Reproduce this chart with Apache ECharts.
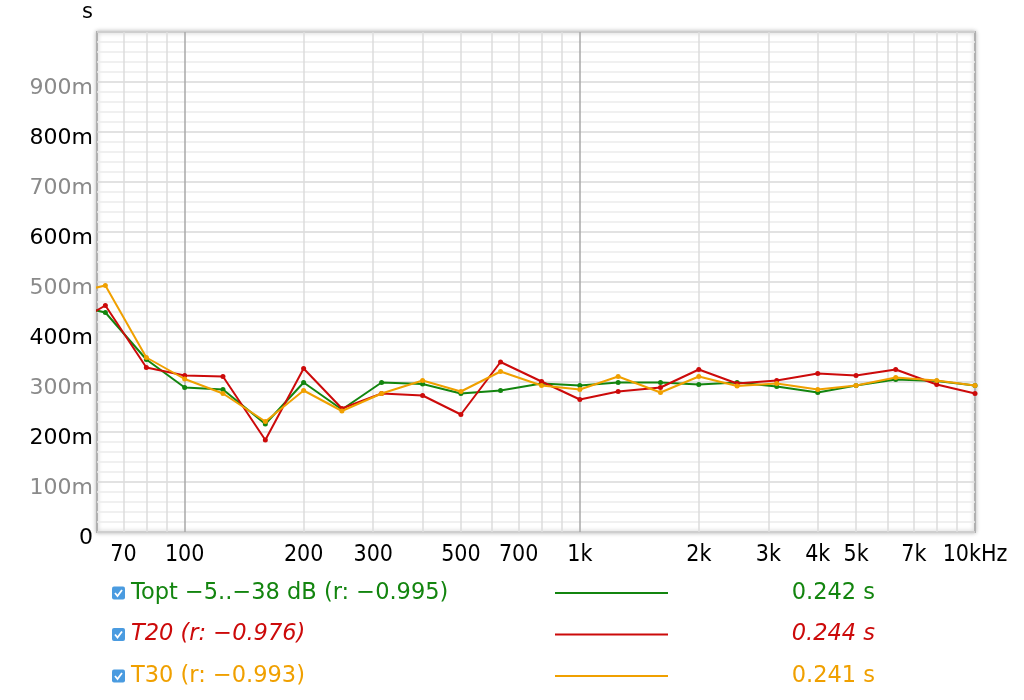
<!DOCTYPE html>
<html><head><meta charset="utf-8">
<script src="https://cdn.jsdelivr.net/npm/echarts@6/dist/echarts.min.js"></script>
<style>html,body{margin:0;padding:0;background:#fff}#c{width:1024px;height:700px}</style>
</head><body><div id="c"></div>
<script>
const freqs = [50, 63, 80, 100, 125, 160, 200, 250, 315, 400, 500, 630, 800, 1000, 1250, 1600, 2000, 2500, 3150, 4000, 5000, 6300, 8000, 10000];
const toptValues = [0.457, 0.439, 0.345, 0.289, 0.285, 0.216, 0.299, 0.245, 0.299, 0.296, 0.277, 0.283, 0.297, 0.293, 0.299, 0.299, 0.295, 0.299, 0.291, 0.279, 0.293, 0.305, 0.302, 0.293];
const t20Values  = [0.407, 0.453, 0.329, 0.313, 0.311, 0.184, 0.327, 0.247, 0.277, 0.273, 0.235, 0.340, 0.301, 0.265, 0.281, 0.289, 0.325, 0.297, 0.303, 0.317, 0.313, 0.325, 0.295, 0.277];
const t30Values  = [0.475, 0.493, 0.349, 0.306, 0.277, 0.221, 0.283, 0.242, 0.277, 0.303, 0.281, 0.321, 0.293, 0.285, 0.311, 0.279, 0.311, 0.292, 0.297, 0.285, 0.293, 0.309, 0.303, 0.293];
const xTickLabels = [70, 100, 200, 300, 500, 700, 1000, 2000, 3000, 4000, 5000, 7000, 10000];
const minorGridFreqs = [70, 80, 90, 200, 300, 400, 500, 600, 700, 800, 900, 2000, 3000, 4000, 5000, 6000, 7000, 8000, 9000];
const majorGridFreqs = [100, 1000];
const seriesNames = ['Topt \u22125..\u221238 dB (r: \u22120.995)', 'T20 (r: \u22120.976)', 'T30 (r: \u22120.993)'];
const seriesTotals = ['0.242 s', '0.244 s', '0.241 s'];
const seriesColors = ['#13850f', '#cc0a0a', '#f0a000'];
const seriesItalic = [false, true, false];
const seriesValues = [toptValues, t20Values, t30Values];

function pairs(v) { return freqs.map((f, i) => [f, v[i]]); }

const chart = echarts.init(document.getElementById('c'), null, {renderer: 'canvas'});

const gridMarkLines = [];
minorGridFreqs.forEach(f => gridMarkLines.push({xAxis: f, lineStyle: {color: '#dcdcdc', width: 1.5, type: 'solid'}}));
majorGridFreqs.forEach(f => gridMarkLines.push({xAxis: f, lineStyle: {color: '#a8a8a8', width: 1.5, type: 'solid'}}));

const series = [{
  type: 'line', data: [], z: 1, silent: true,
  markLine: {silent: true, symbol: 'none', label: {show: false}, animation: false, z: 1, data: gridMarkLines}
}];
seriesValues.forEach((vals, i) => {
  series.push({
    type: 'line', name: seriesNames[i], data: pairs(vals), z: 3 + i,
    clip: true, symbol: 'circle', symbolSize: 5, showSymbol: true,
    lineStyle: {color: seriesColors[i], width: 2},
    itemStyle: {color: seriesColors[i], borderWidth: 0},
    emphasis: {disabled: true},
    animation: false
  });
});

const legendFont = '22.5px "DejaVu Sans"';
const graphics = [];
seriesNames.forEach((name, i) => {
  const y = 593 + i * 41.5;
  graphics.push({type: 'rect', shape: {x: 112, y: y - 6.5, width: 13, height: 13, r: 2}, style: {fill: '#4a9be0'}});
  graphics.push({type: 'polyline', shape: {points: [[115, y], [117.5, y + 3], [122, y - 3]]}, style: {stroke: '#fff', lineWidth: 1.8, fill: null}});
  graphics.push({type: 'text', x: 131, y: y, style: {text: name, fill: seriesColors[i], font: (seriesItalic[i] ? 'italic ' : '') + legendFont, textVerticalAlign: 'middle', textAlign: 'left'}});
  graphics.push({type: 'line', shape: {x1: 555, y1: y, x2: 668, y2: y}, style: {stroke: seriesColors[i], lineWidth: 2}});
  graphics.push({type: 'text', x: 875, y: y, style: {text: seriesTotals[i], fill: seriesColors[i], font: (seriesItalic[i] ? 'italic ' : '') + legendFont, textVerticalAlign: 'middle', textAlign: 'right'}});
});

chart.setOption({
  animation: false,
  backgroundColor: '#fff',
  grid: {left: 97, right: 49, top: 32, bottom: 168, show: true, borderColor: '#b0b0b0', borderWidth: 2, backgroundColor: '#fff', shadowBlur: 4, shadowColor: 'rgba(0,0,0,0.25)'},
  xAxis: {
    type: 'log', logBase: 10, min: 60, max: 10000,
    axisLine: {show: false}, axisTick: {show: false}, splitLine: {show: false},
    axisLabel: {
      customValues: xTickLabels,
      showMinLabel: true, showMaxLabel: true,
      margin: 12, color: '#000', fontSize: 23, fontFamily: 'DejaVu Sans Condensed',
      formatter: v => v >= 10000 ? (v / 1000) + 'kHz' : (v >= 1000 ? (v / 1000) + 'k' : String(v))
    }
  },
  yAxis: {
    type: 'value', min: 0, max: 1, interval: 0.1,
    name: 's', nameLocation: 'end', nameGap: 9,
    nameTextStyle: {color: '#000', fontSize: 21, fontFamily: 'DejaVu Sans', align: 'right', padding: [0, 4, 0, 0]},
    axisLine: {show: false}, axisTick: {show: false},
    splitLine: {show: true, lineStyle: {color: '#d8d8d8', width: 1.5}},
    minorTick: {show: false, splitNumber: 5},
    minorSplitLine: {show: true, lineStyle: {color: '#ececec', width: 1.5}},
    axisLabel: {
      showMaxLabel: false, margin: 4, fontSize: 22, fontFamily: 'DejaVu Sans',
      verticalAlign: 'top', lineHeight: 12,
      formatter: v => v === 0 ? '0' : Math.round(v * 1000) + 'm',
      color: v => (Math.round(v * 10) % 2 === 0) ? '#000' : '#8a8a8a'
    }
  },
  series: series,
  graphic: graphics
});
</script>
</body></html>
